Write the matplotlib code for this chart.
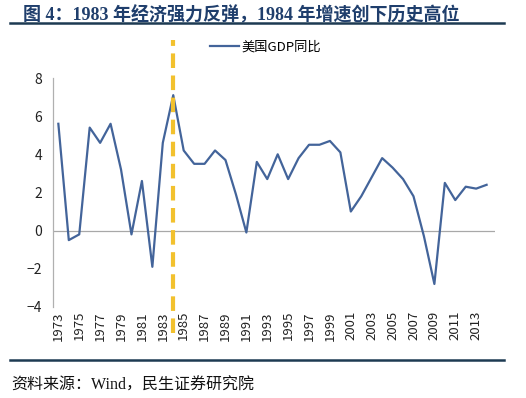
import numpy as np
import matplotlib
matplotlib.use('Agg')
import matplotlib.pyplot as plt
from matplotlib.lines import Line2D

plt.rcParams['font.family'] = ['Noto Sans CJK SC', 'DejaVu Sans']

# 美国GDP同比 (%)
years = list(range(1973, 2015))
gdp_yoy = [5.6, -0.5, -0.2, 5.4, 4.6, 5.6, 3.2, -0.2, 2.6, -1.9,
           4.6, 7.1, 4.2, 3.5, 3.5, 4.2, 3.7, 1.9, -0.1, 3.6,
           2.7, 4.0, 2.7, 3.8, 4.5, 4.5, 4.7, 4.1, 1.0, 1.8,
           2.8, 3.8, 3.3, 2.7, 1.8, -0.3, -2.8, 2.5, 1.6, 2.3,
           2.2, 2.4]
tick_years = list(range(1973, 2014, 2))
y_ticks = [-4, -2, 0, 2, 4, 6, 8]
mark_year = 1984

title = '图 4：1983 年经济强力反弹，1984 年增速创下历史高位'
source = '资料来源：Wind，民生证券研究院'

fig = plt.figure(figsize=(5.26, 3.98), dpi=100)
ax = fig.add_axes([0.101, 0.229, 0.840, 0.575])

ax.plot(years, gdp_yoy, color='#43649a', lw=1.6, label='美国GDP同比')
ax.axhline(0, color='#a8a8a8', lw=0.9, zorder=1)
ax.axvline(mark_year, ymin=-0.115, ymax=1.167, color='#f2c12e', lw=3,
           dashes=(3.5, 1.8), clip_on=False, zorder=3)

ax.set_xlim(1972.5, 2014.8)
ax.set_ylim(-4, 8)
ax.set_yticks(y_ticks)
ax.set_xticks(tick_years)
ax.set_xticklabels([str(y) for y in tick_years], rotation=90, fontsize=9.5, color='#222222')
ax.tick_params(axis='y', labelsize=10, colors='#222222', length=0, pad=8)
ax.tick_params(axis='x', length=0, pad=3)
for s in ['top', 'right', 'bottom']:
    ax.spines[s].set_visible(False)
ax.spines['left'].set_color('#b0b0b0')
ax.spines['left'].set_linewidth(0.9)

fig.legend(loc='center', bbox_to_anchor=(0.505, 0.882), frameon=False,
           fontsize=9.5, handlelength=2.2, handletextpad=0.2)

fig.text(0.044, 0.963, title, fontsize=13, fontweight='bold', color='#1f3e6c',
         family=['Liberation Serif', 'Noto Sans CJK SC'], va='center')
fig.add_artist(Line2D([0.019, 0.958], [0.941, 0.941], color='#1d3a52', lw=1.8))
fig.add_artist(Line2D([0.019, 0.958], [0.096, 0.096], color='#1d3a52', lw=1.8))
fig.text(0.022, 0.032, source, fontsize=11.5, color='#111111',
         family=['Liberation Serif', 'Noto Sans CJK SC'], va='center')

fig.savefig('out.png', dpi=100)
